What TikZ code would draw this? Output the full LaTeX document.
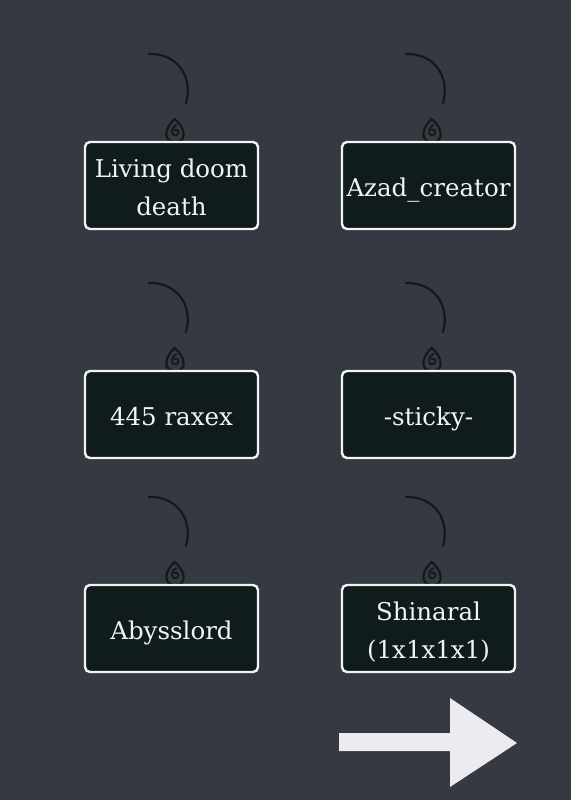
\documentclass[tikz,border=0pt]{standalone}
\usepackage{fontspec}
\setmainfont{DejaVu Serif}
\definecolor{bg}{HTML}{353A42}
\definecolor{boxfill}{HTML}{101B1B}
\definecolor{hookc}{HTML}{111A1A}
\definecolor{txt}{HTML}{F2F2F2}
\definecolor{arrowc}{HTML}{ECECF0}
\begin{document}
\begin{tikzpicture}[x=1pt,y=-1pt,
  tag/.style={draw=txt, line width=2.4pt, fill=boxfill, rounded corners=5pt,
    minimum width=173pt, minimum height=87pt},
  tagtext/.style={text=txt, font=\fontsize{24.5}{38}\selectfont, anchor=base, inner sep=0pt},
  hookline/.style={draw=hookc, line width=2.2pt, line cap=round}]
\useasboundingbox[fill=bg] (0,0) rectangle (571,800);
% hooks
\foreach \cx/\top in {171.5/141, 428.5/141, 171.5/370, 428.5/370, 171.5/584, 428.5/584}{
  \draw[hookline] (\cx-22.5,\top-87) .. controls (\cx+5,\top-88) and (\cx+22,\top-65) .. (\cx+14.5,\top-38);
  \draw[hookline] (\cx+4,\top+1) .. controls (\cx-9,\top+1) and (\cx-7,\top-13) .. (\cx+3,\top-22)
     .. controls (\cx+14,\top-14) and (\cx+16,\top+1) .. cycle;
  \draw[hookline, line width=1.8pt] (\cx+3,\top-11) .. controls (\cx+9,\top-13) and (\cx+8,\top-4) .. (\cx+2,\top-6)
     .. controls (\cx-1,\top-8) and (\cx+1,\top-15) .. (\cx+5,\top-16);
}
\node[tag] (n1) at (171.5,185.5) {};
\node[tag] (n2) at (428.5,185.5) {};
\node[tag] (n3) at (171.5,414.5) {};
\node[tag] (n4) at (428.5,414.5) {};
\node[tag] (n5) at (171.5,628.5) {};
\node[tag] (n6) at (428.5,628.5) {};
\node[tagtext] (t1a) at ([yshift=8.5pt]n1.center) {Living doom};
\node[tagtext] (t1b) at ([yshift=-29.5pt]n1.center) {death};
\node[tagtext] (t2) at ([yshift=-10.5pt]n2.center) {Azad\_creator};
\node[tagtext] (t3) at ([yshift=-10.5pt]n3.center) {445 raxex};
\node[tagtext] (t4) at ([yshift=-10.5pt]n4.center) {-sticky-};
\node[tagtext] (t5) at ([yshift=-10.5pt]n5.center) {Abysslord};
\node[tagtext] (t6a) at ([yshift=8.5pt]n6.center) {Shinaral};
\node[tagtext] (t6b) at ([yshift=-29.5pt]n6.center) {(1x1x1x1)};
% arrow
\fill[arrowc] (339,733) -- (450,733) -- (450,698) -- (517,743) -- (450,787) -- (450,751) -- (339,751) -- cycle;
\end{tikzpicture}
\end{document}
